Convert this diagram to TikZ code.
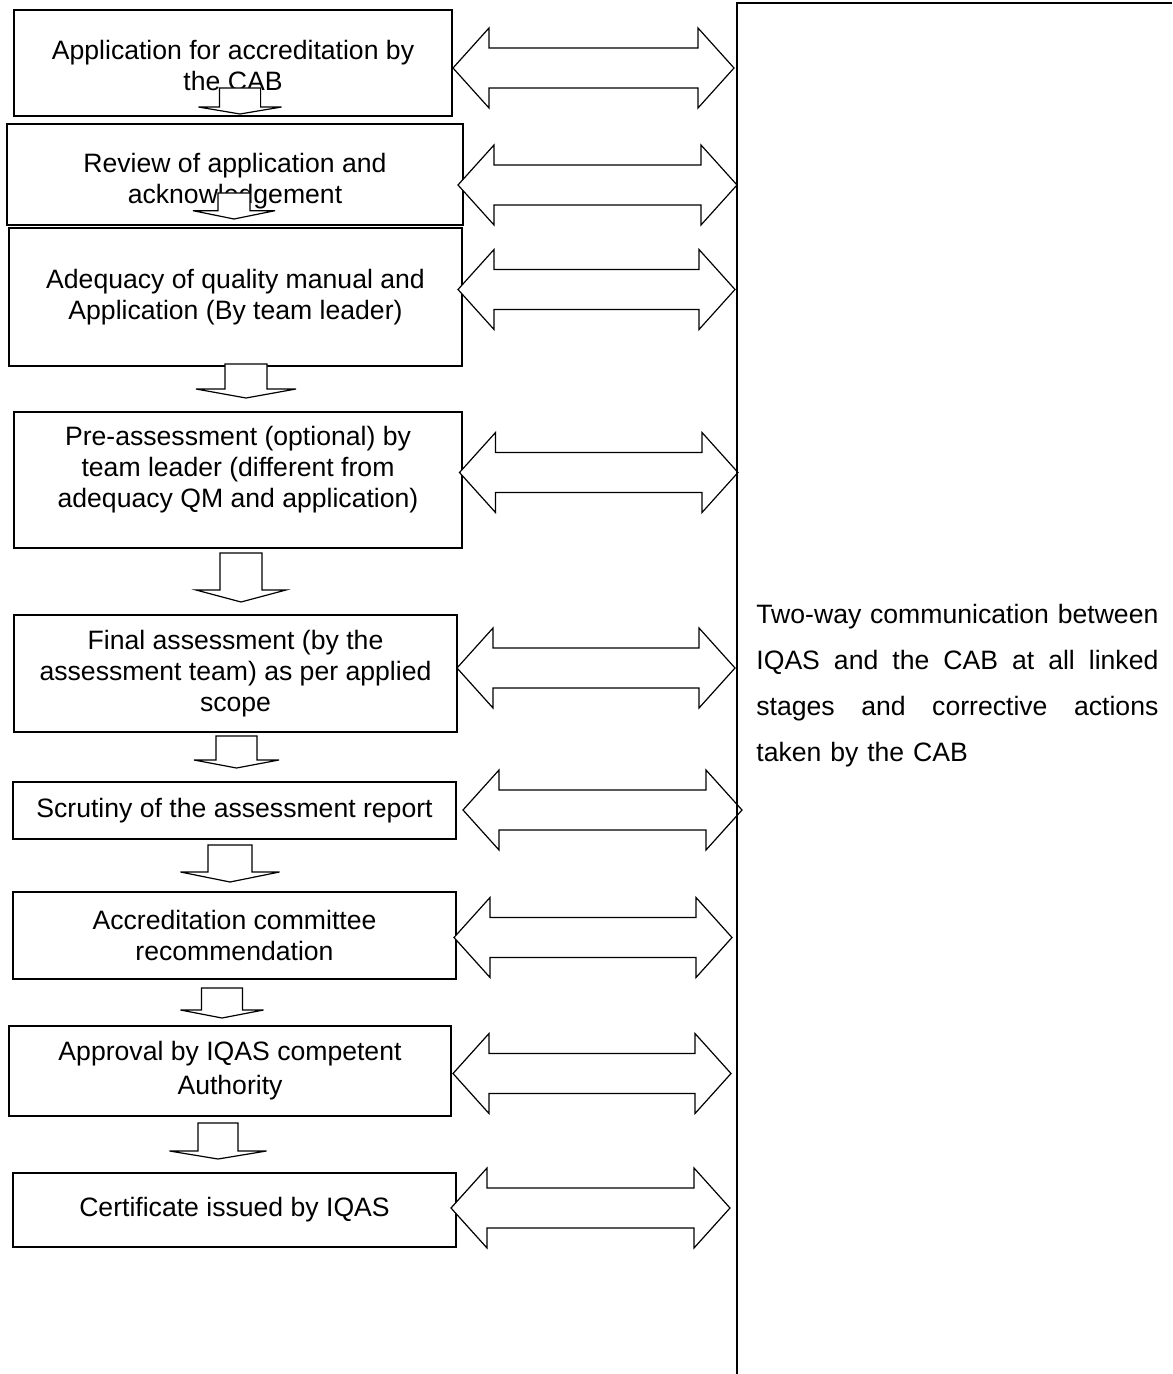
\documentclass[tikz,border=0pt]{standalone}
\usepackage{fontspec}
\setmainfont{Liberation Sans}
\tikzset{
  stage/.style={draw, line width=0.9pt, align=center, inner sep=0pt,
    font=\fontsize{13.3}{15.5}\selectfont},
  flowarrow/.style={draw, fill=white, line width=0.6pt, line join=miter},
}
% block arrow pointing down: centre x, shaft half width, head half width, top, head base, tip
\newcommand{\stepdown}[6]{%
  \draw[flowarrow] (#1-#2,#4) -- (#1+#2,#4) -- (#1+#2,#5) -- (#1+#3,#5)
    -- (#1,#6) -- (#1-#3,#5) -- (#1-#2,#5) -- cycle;}
% two-headed block arrow: y, left tip, right tip
\newcommand{\twoway}[3]{%
  \draw[flowarrow] (#2,#1) -- (#2+36,#1-40) -- (#2+36,#1-20) -- (#3-36,#1-20)
    -- (#3-36,#1-40) -- (#3,#1) -- (#3-36,#1+40) -- (#3-36,#1+20)
    -- (#2+36,#1+20) -- (#2+36,#1+40) -- cycle;}
% justified line of the note
\newcommand{\fullline}[1]{\makebox[201pt][s]{\spaceskip=0pt\xspaceskip=0pt #1}}

\begin{document}
\begin{tikzpicture}[x=0.5pt, y=-0.5pt]
  \useasboundingbox (0,0) rectangle (1172,1374);

  % Stages
  \node[stage, minimum width=219pt, minimum height=53pt] (app) at (233,63)
    {\rule{0pt}{12pt}Application for accreditation by\\the CAB};
  \node[stage, minimum width=228pt, minimum height=50.5pt] (review) at (235,174.5)
    {\rule{0pt}{16pt}Review of application and\\acknowledgement};
  \node[stage, minimum width=226.5pt, minimum height=69pt] (adequacy) at (235.5,297)
    {Adequacy of quality manual and\\Application (By team leader)};
  \node[stage, minimum width=224pt, minimum height=68pt] (preassess) at (238,480)
    {Pre-assessment (optional) by\\team leader (different from\\adequacy QM and
     application)\rule[-12.8pt]{0pt}{0pt}};
  \node[stage, minimum width=221.5pt, minimum height=58.5pt] (final) at (235.5,673.5)
    {Final assessment (by the\\assessment team) as per applied\\scope};
  \node[stage, minimum width=221.5pt, minimum height=28.5pt] (scrutiny) at (234.5,810.5)
    {Scrutiny of the assessment report};
  \node[stage, minimum width=221.5pt, minimum height=43.5pt] (committee) at (234.5,935.5)
    {Accreditation committee\\recommendation};
  \node[stage, minimum width=221pt, minimum height=45pt] (approval) at (230,1071)
    {Approval by IQAS competent\\[1.5pt]Authority};
  \node[stage, minimum width=221.5pt, minimum height=37pt] (certificate) at (234.5,1210)
    {Certificate issued by IQAS};

  % Arrows between stages
  \stepdown{240}{20.6}{41.6}{88}{107}{114}
  \stepdown{234}{16}{41}{193}{210.7}{219}
  \stepdown{246}{21}{50}{364}{389}{398}
  \stepdown{241}{21}{45}{553}{590}{602}
  \stepdown{236.5}{20.5}{42.5}{736}{760}{768}
  \stepdown{230}{22}{49.5}{845}{872}{882}
  \stepdown{222}{20.5}{41.5}{988}{1010}{1018}
  \stepdown{218}{20}{48.5}{1123}{1151}{1159}

  % Two-way arrows
  \twoway{68}{453}{734}
  \twoway{185}{458}{737}
  \twoway{289.5}{458}{735}
  \twoway{472.5}{459.5}{738}
  \twoway{668}{457}{735}
  \twoway{810}{463}{742}
  \twoway{937.5}{454}{732}
  \twoway{1073.5}{453}{731}
  \twoway{1208}{451}{730}

  % CAB side
  \coordinate (bartop) at (737,3);
  \coordinate (barbottom) at (737,1374);
  \coordinate (topright) at (1172,3);
  \draw[line width=1pt] (barbottom) -- (bartop) -- (topright);

  \node[anchor=north west, inner sep=0pt, text width=201pt, align=left,
    font=\fontsize{13.3}{23}\selectfont] (note) at (756,604)
    {\fullline{Two-way communication between}\\
     \fullline{IQAS and the CAB at all linked}\\
     \fullline{stages and corrective actions}\\
     taken by the CAB};
\end{tikzpicture}
\end{document}
